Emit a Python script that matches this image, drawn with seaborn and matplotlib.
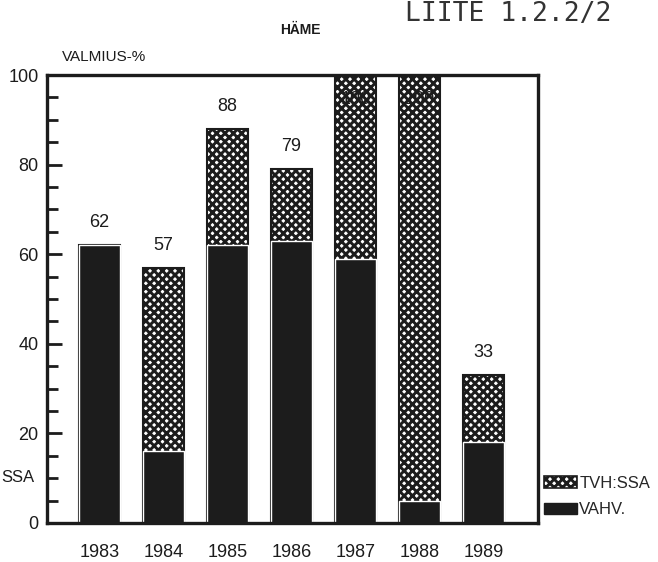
import matplotlib
matplotlib.use("Agg")
import matplotlib.pyplot as plt
from matplotlib.patches import Patch
from matplotlib.ticker import MultipleLocator
import seaborn as sns
import pandas as pd

# values (valmius-%)
years = ["1983", "1984", "1985", "1986", "1987", "1988", "1989"]
vahv = [62, 16, 62, 63, 59, 5, 18]
tvh_ssa = [0, 41, 26, 16, 41, 95, 15]

df = pd.DataFrame({"Vuosi": years, "VAHV.": vahv, "TVH:SSA": tvh_ssa})
df["Yhteensa"] = df["VAHV."] + df["TVH:SSA"]

INK = "#1c1c1c"

sns.set_style("ticks")
plt.rcParams["font.family"] = ["Liberation Sans"]
plt.rcParams["hatch.linewidth"] = 2.1

fig = plt.figure(figsize=(6.58, 5.62), dpi=100)
ax = fig.add_axes([0.0714, 0.0694, 0.7462, 0.7971])

# total height drawn hatched, the VAHV. part drawn solid on top of it
sns.barplot(df, x="Vuosi", y="Yhteensa", color="white", saturation=1,
            edgecolor=INK, linewidth=1.5, hatch="xxxx", width=0.63, ax=ax)
sns.barplot(df, x="Vuosi", y="VAHV.", color=INK, saturation=1,
            edgecolor="white", linewidth=1.0, width=0.63, ax=ax)

for i, t in enumerate(df["Yhteensa"]):
    ypos = t + 5 if t < 95 else 94.5
    ax.text(i, ypos, str(t), ha="center", va="center", fontsize=13, color=INK)

ax.set_ylim(0, 100)
ax.set_xlim(-0.82, 6.85)
ax.yaxis.set_major_locator(MultipleLocator(20))
ax.yaxis.set_minor_locator(MultipleLocator(5))
ax.tick_params(axis="y", which="major", direction="in", length=11, width=2,
               labelsize=13, pad=6, colors=INK)
ax.tick_params(axis="y", which="minor", direction="in", length=8, width=2, colors=INK)
ax.tick_params(axis="x", length=0, pad=15, labelsize=13, colors=INK)
for s in ax.spines.values():
    s.set_linewidth(2.4)
    s.set_color(INK)
    s.set_visible(True)
ax.set_xlabel("")
ax.set_ylabel("")

fig.text(300 / 658, 1 - 30 / 562, "HÄME", ha="center", va="center",
         fontsize=10, fontweight="bold", color=INK)
fig.text(62 / 658, 1 - 57 / 562, "VALMIUS-%", ha="left", va="center",
         fontsize=11, color=INK)
fig.text(405 / 658, 1 - 1 / 562, "LIITE 1.2.2/2", ha="left", va="top",
         fontsize=19, family="DejaVu Sans Mono", color="#333333")
fig.text(1 / 658, 1 - 478 / 562, "SSA", ha="left", va="center",
         fontsize=12, color=INK)

handles = [Patch(facecolor="white", edgecolor=INK, hatch="xxxx", linewidth=1.2),
           Patch(facecolor=INK, edgecolor=INK)]
fig.legend(handles, ["TVH:SSA", "VAHV."], loc="upper left",
           bbox_to_anchor=(0.827, 0.153), frameon=False, fontsize=12,
           handlelength=2.0, handleheight=0.72, handletextpad=0.1,
           labelspacing=0.68, borderpad=0, borderaxespad=0)

fig.savefig("out.png", dpi=100)
